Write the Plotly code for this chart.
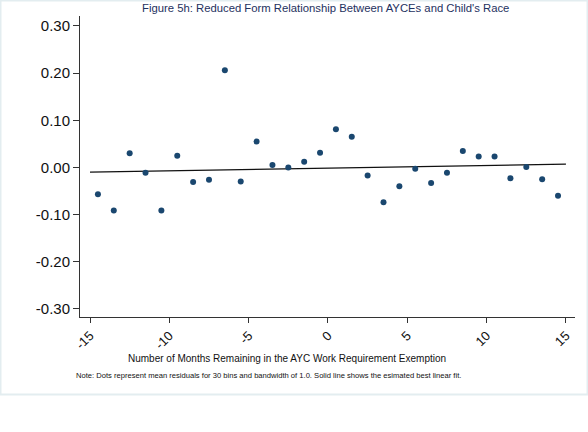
import plotly.graph_objects as go

# bin midpoints (months remaining) and mean residuals
months = [-14.5, -13.5, -12.5, -11.5, -10.5, -9.5, -8.5, -7.5, -6.5, -5.5,
          -4.5, -3.5, -2.5, -1.5, -0.5, 0.5, 1.5, 2.5, 3.5, 4.5,
          5.5, 6.5, 7.5, 8.5, 9.5, 10.5, 11.5, 12.5, 13.5, 14.5]
residuals = [-0.057, -0.091, 0.030, -0.011, -0.091, 0.025, -0.031, -0.026, 0.206, -0.030,
             0.055, 0.005, 0.000, 0.012, 0.031, 0.081, 0.065, -0.017, -0.074, -0.040,
             -0.003, -0.033, -0.011, 0.035, 0.023, 0.023, -0.023, 0.001, -0.025, -0.060]

# estimated linear fit (endpoints)
fit_x = [-15, 15]
fit_y = [-0.010, 0.007]

y_ticks = [0.30, 0.20, 0.10, 0.00, -0.10, -0.20, -0.30]
y_labels = ["0.30", "0.20", "0.10", "0.00", "-0.10", "-0.20", "-0.30"]
x_ticks = [-15, -10, -5, 0, 5, 10, 15]
x_labels = ["-15", "-10", "-5", "0", "5", "10", "15"]

FONT = "Liberation Sans, Arial, sans-serif"

fig = go.Figure()

fig.add_trace(go.Scatter(
    x=fit_x, y=fit_y,
    mode='lines',
    line=dict(color='#111111', width=1.2),
    showlegend=False
))

fig.add_trace(go.Scatter(
    x=months, y=residuals,
    mode='markers',
    marker=dict(color='#1a476f', size=6),
    showlegend=False
))

# light graph-region frame
fig.add_shape(type='rect', xref='paper', yref='paper',
              x0=-0.1606, x1=1.0253, y0=-0.2575, y1=1.0515,
              line=dict(color='#e3edf0', width=2), fillcolor='rgba(0,0,0,0)',
              layer='below')

fig.add_annotation(text="Figure 5h: Reduced Form Relationship Between AYCEs and Child's Race",
                   xref='paper', yref='paper', x=0.495, y=1.027, yanchor='middle',
                   showarrow=False, font=dict(family=FONT, size=11.3, color='#1e3160'))
fig.add_annotation(text="Number of Months Remaining in the AYC Work Requirement Exemption",
                   xref='paper', yref='paper', x=0.418, y=-0.139, yanchor='middle',
                   showarrow=False, font=dict(family=FONT, size=10, color='#111111'))
fig.add_annotation(text="Note: Dots represent mean residuals for 30 bins and bandwidth of 1.0. "
                        "Solid line shows the esimated best linear fit.",
                   xref='paper', yref='paper', x=0.380, y=-0.196, yanchor='middle',
                   showarrow=False, font=dict(family=FONT, size=7.6, color='#111111'))

fig.update_layout(
    width=588, height=432,
    margin=dict(l=80, r=13, t=16, b=115),
    paper_bgcolor='white',
    plot_bgcolor='white',
    font=dict(family=FONT, color='#111111'),
    xaxis=dict(range=[-15.63, 15.57], tickvals=x_ticks, ticktext=x_labels,
               tickangle=-45, ticks='outside', ticklen=5, tickcolor='#333333',
               showline=True, linecolor='#333333', linewidth=1,
               showgrid=False, zeroline=False, tickfont=dict(size=13)),
    yaxis=dict(range=[-0.317, 0.321], tickvals=y_ticks, ticktext=y_labels,
               ticks='outside', ticklen=6, tickcolor='#333333',
               showline=True, linecolor='#333333', linewidth=1,
               showgrid=False, zeroline=False, tickfont=dict(size=15)),
)

# drop the page's default body margin so the figure sits at the window corner
fig.write_html("out.html", config={'displayModeBar': False},
               post_script="document.body.style.margin = '0';")
